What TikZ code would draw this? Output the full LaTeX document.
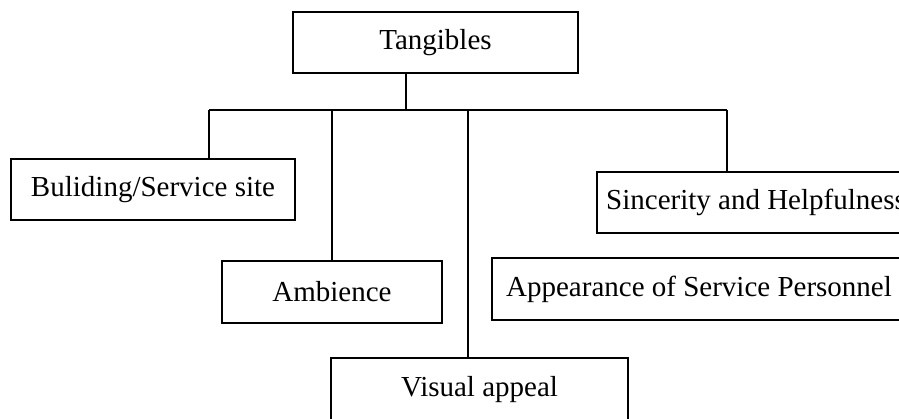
\documentclass[tikz,border=0pt]{standalone}
\usepackage{fontspec}
\setmainfont{Liberation Serif}
\begin{document}
\begin{tikzpicture}[x=1pt,y=-1pt,
  box/.style={draw=black,line width=2.6pt,rectangle,inner sep=0pt,
    font=\fontsize{29}{34}\selectfont},
  link/.style={draw=black,line width=2.6pt}]
\useasboundingbox (0,0) rectangle (899,418);
\clip (0,0) rectangle (899,418);

% boxes (corners given as pixel positions, y growing downwards)
\node[box,minimum width=285pt,minimum height=61pt] (tang) at (435.5,42.5) {Tangibles};
\node[box,minimum width=284pt,minimum height=61pt] (bld)  at (153,189.5) {Buliding/Service site};
\node[box,minimum width=220pt,minimum height=62pt] (amb)  at (332,292) {Ambience};
\node[box,minimum width=297pt,minimum height=63pt] (vis)  at (479.5,389.5) {Visual appeal};
\node[box,minimum width=318pt,minimum height=61pt] (sinc) at (756,202.5) {Sincerity and Helpfulness};
\node[box,minimum width=414pt,minimum height=62pt] (app)  at (699,289) {Appearance of Service Personnel};

% tree connectors
\coordinate (hub) at (406,110);
\coordinate (busL) at (209,110);
\coordinate (dAmb) at (332,110);
\coordinate (dVis) at (468,110);
\coordinate (busR) at (727,110);

\draw[link] (tang.south -| hub) -- (hub);
\draw[link] (busL) -- (busR);
\draw[link] (busL) -- (busL |- bld.north);
\draw[link] (dAmb) -- (dAmb |- amb.north);
\draw[link] (dVis) -- (dVis |- vis.north);
\draw[link] (busR) -- (busR |- sinc.north);
\end{tikzpicture}
\end{document}
